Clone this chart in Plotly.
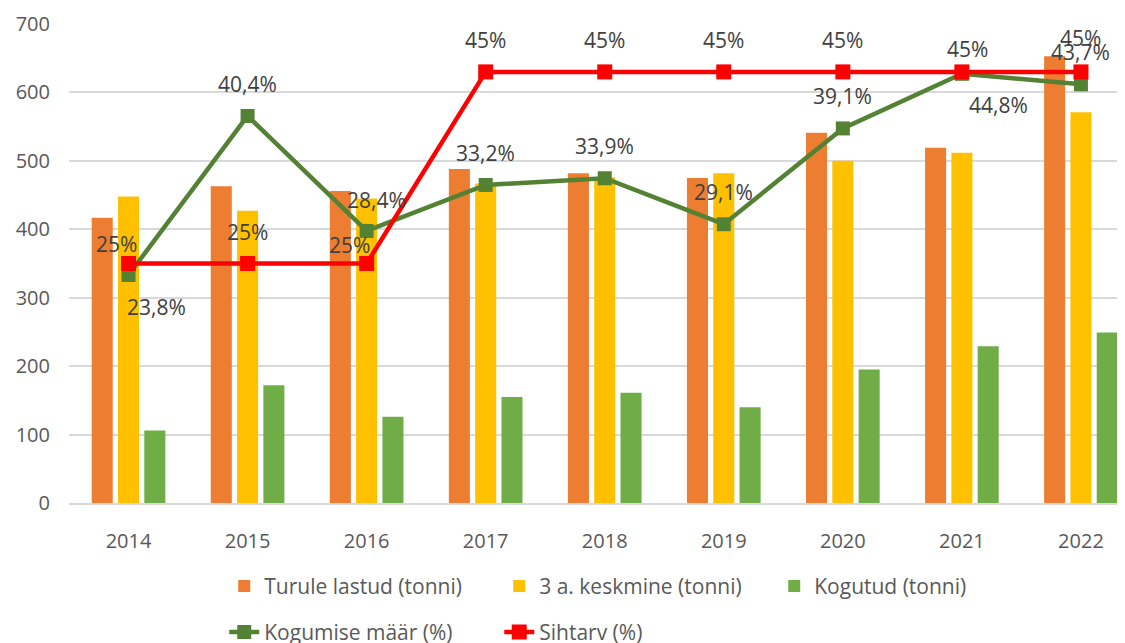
import plotly.graph_objects as go

years = ["2014", "2015", "2016", "2017", "2018", "2019", "2020", "2021", "2022"]
turule_lastud = [417, 463, 456, 488, 482, 475, 541, 519, 653]
keskmine_3a = [448, 427, 445, 467, 476, 482, 500, 512, 571]
kogutud = [106, 172, 126, 155, 161, 140, 195, 229, 249]
kogumise_maar = [23.8, 40.4, 28.4, 33.2, 33.9, 29.1, 39.1, 44.8, 43.7]
sihtarv = [25, 25, 25, 45, 45, 45, 45, 45, 45]

# label offsets (pixels) for the data labels, as placed in the original
kogumise_offsets = [(28, -32), (0, 32), (10, 31), (0, 32), (0, 32), (0, 32), (0, 32), (37, -31), (0, 32)]
sihtarv_offsets = [(-12, 20), (0, 32), (-17, 19), (0, 32), (0, 32), (0, 32), (0, 32), (6, 23), (0, 34)]

FONT = "Open Sans"
fig = go.Figure()

bar_specs = [
    ("Turule lastud (tonni)", turule_lastud, "#ED7D31"),
    ("3 a. keskmine (tonni)", keskmine_3a, "#FFC000"),
    ("Kogutud (tonni)", kogutud, "#70AD47"),
]
for name, vals, col in bar_specs:
    fig.add_trace(go.Bar(x=years, y=vals, name=name, marker=dict(color=col, line=dict(width=0)),
                         legend="legend"))

fig.add_trace(go.Scatter(x=years, y=kogumise_maar, name="Kogumise määr (%)", yaxis="y2",
                         mode="lines+markers", line=dict(color="#548235", width=4.5),
                         marker=dict(symbol="square", size=14, color="#548235"),
                         legend="legend2"))
fig.add_trace(go.Scatter(x=years, y=sihtarv, name="Sihtarv (%)", yaxis="y2",
                         mode="lines+markers", line=dict(color="#FF0000", width=4.5),
                         marker=dict(symbol="square", size=15, color="#FF0000"),
                         legend="legend2"))

def fmt(v):
    s = ("%.1f" % v) if abs(v - round(v)) > 1e-9 else str(int(round(v)))
    return s.replace(".", ",") + "%"

annotations = []
for vals, offs in ((kogumise_maar, kogumise_offsets), (sihtarv, sihtarv_offsets)):
    for i, (v, (dx, dy)) in enumerate(zip(vals, offs)):
        annotations.append(dict(x=i, y=v, xref="x", yref="y2", text=fmt(v), showarrow=False,
                                xshift=dx, yshift=dy, font=dict(family=FONT, size=21, color="#404040")))

legend_font = dict(family=FONT, size=21, color="#595959")
fig.update_layout(
    width=1125, height=665,
    margin=dict(l=61, r=8, t=16, b=169.5),
    paper_bgcolor="white", plot_bgcolor="white",
    barmode="group", bargap=0.337, bargroupgap=0.2,
    font=dict(family=FONT, size=20, color="#595959"),
    xaxis=dict(type="category", range=[-0.5, 8.37], showgrid=False, showline=True,
               linecolor="#D9D9D9", linewidth=1.5, ticks="", ticklabelstandoff=19,
               automargin=False, tickfont=dict(family=FONT, size=20, color="#595959")),
    yaxis=dict(range=[0, 700], dtick=100, showgrid=True, gridcolor="#D9D9D9", gridwidth=1.5,
               zeroline=False, showline=False, ticks="", ticklabelstandoff=18, automargin=False,
               tickfont=dict(family=FONT, size=20, color="#595959")),
    yaxis2=dict(range=[0, 50], overlaying="y", side="right", showgrid=False, zeroline=False,
                showline=False, showticklabels=False, ticks="", automargin=False),
    legend=dict(orientation="h", x=0.147, xanchor="left", y=-0.174, yanchor="middle",
                entrywidth=230, font=legend_font, bgcolor="rgba(0,0,0,0)"),
    legend2=dict(orientation="h", x=0.147, xanchor="left", y=-0.27, yanchor="middle",
                 entrywidth=230, font=legend_font, bgcolor="rgba(0,0,0,0)"),
    annotations=annotations,
    showlegend=True,
)

fig.write_html("out.html")
